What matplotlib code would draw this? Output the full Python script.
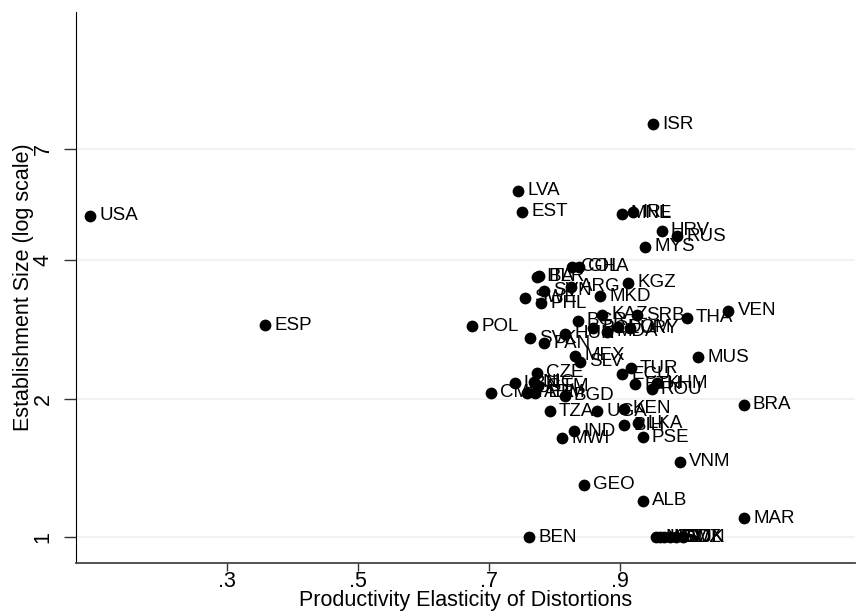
import numpy as np
import matplotlib
matplotlib.use('Agg')
import matplotlib.pyplot as plt
from matplotlib.ticker import FixedLocator, FixedFormatter, NullLocator

# country codes, elasticity (x) and establishment size (y)
countries = ['USA', 'ESP', 'POL', 'ISR', 'LVA', 'EST', 'MNE', 'IRL', 'HRV', 'RUS',
             'MYS', 'ITA', 'BLR', 'COL', 'GHA', 'KGZ', 'SVN', 'ARG', 'SWE', 'PHL',
             'MKD', 'KAZ', 'SRB', 'THA', 'VEN', 'BGR', 'BOL', 'MDA', 'DOM', 'URY',
             'HUN', 'SVK', 'PAN', 'MEX', 'SLV', 'MUS', 'TUR', 'ECU', 'CZE', 'ETH',
             'ROU', 'KHM', 'LBN', 'NIC', 'GTM', 'CMR', 'PER', 'ARM', 'BGD', 'BRA',
             'TZA', 'UGA', 'KEN', 'IND', 'MWI', 'BIH', 'LKA', 'PSE', 'VNM', 'GEO',
             'ALB', 'MAR', 'BEN', 'NPL', 'KSV', 'LSO', 'SWZ', 'SDN', 'TJK']
elasticity = [0.091, 0.358, 0.674, 0.950, 0.744, 0.750, 0.902, 0.920, 0.963, 0.987,
              0.938, 0.773, 0.776, 0.826, 0.837, 0.912, 0.784, 0.824, 0.755, 0.779,
              0.869, 0.872, 0.925, 1.001, 1.065, 0.835, 0.859, 0.880, 0.897, 0.915,
              0.816, 0.762, 0.784, 0.831, 0.838, 1.019, 0.916, 0.903, 0.773, 0.923,
              0.948, 0.956, 0.739, 0.768, 0.775, 0.702, 0.758, 0.770, 0.815, 1.088,
              0.792, 0.865, 0.905, 0.829, 0.811, 0.906, 0.927, 0.934, 0.991, 0.845,
              0.934, 1.089, 0.761, 0.955, 0.961, 0.967, 0.976, 0.985, 0.995]
size = [5.00, 2.89, 2.88, 7.91, 5.67, 5.11, 5.05, 5.09, 4.64, 4.52,
        4.29, 3.69, 3.70, 3.88, 3.88, 3.58, 3.44, 3.51, 3.32, 3.23,
        3.34, 3.05, 3.04, 3.00, 3.11, 2.96, 2.85, 2.80, 2.86, 2.85,
        2.77, 2.71, 2.64, 2.48, 2.41, 2.46, 2.33, 2.26, 2.28, 2.15,
        2.10, 2.16, 2.16, 2.17, 2.13, 2.06, 2.06, 2.06, 2.03, 1.94,
        1.88, 1.88, 1.90, 1.70, 1.64, 1.75, 1.77, 1.65, 1.46, 1.30,
        1.20, 1.10, 1.00, 1.00, 1.00, 1.00, 1.00, 1.00, 1.00]

xticks = [0.3, 0.5, 0.7, 0.9]
xticklabels = ['.3', '.5', '.7', '.9']
yticks = [1, 2, 4, 7]

plt.rcParams['font.family'] = ['Liberation Sans', 'DejaVu Sans']

fig = plt.figure(figsize=(8.6, 6.13), dpi=100)
ax = fig.add_axes([76/860, 50/613, 779/860, 551/613])

ax.scatter(elasticity, size, s=72, color='black', zorder=3, linewidths=0)
for c, xv, yv in zip(countries, elasticity, size):
    ax.annotate(c, (xv, yv), xytext=(6.5, 0), textcoords='offset points',
                va='center', ha='left', fontsize=13.5, zorder=4)

ax.set_yscale('log')
ax.set_xlim(0.0695, 1.258)
ax.set_ylim(0.878, 13.9)

ax.yaxis.set_major_locator(FixedLocator(yticks))
ax.yaxis.set_major_formatter(FixedFormatter([str(t) for t in yticks]))
ax.yaxis.set_minor_locator(NullLocator())
ax.set_xticks(xticks)
ax.set_xticklabels(xticklabels)

for t in yticks:
    ax.axhline(t, color='#eaf2f3', lw=1.2, zorder=1)

ax.tick_params(axis='both', labelsize=15.5, length=6, width=1, color='#333333', pad=0)
ax.tick_params(axis='y', labelrotation=90, length=9, pad=7)
for lbl in ax.get_yticklabels():
    lbl.set_va('center')

ax.spines['top'].set_visible(False)
ax.spines['right'].set_visible(False)
ax.spines['left'].set_color('black')
ax.spines['bottom'].set_color('#444444')
ax.spines['bottom'].set_linewidth(1.3)

ax.set_xlabel('Productivity Elasticity of Distortions', fontsize=15.5, labelpad=-2)
ax.set_ylabel('Establishment Size (log scale)', fontsize=15.5, labelpad=-1)

fig.savefig('out.png', dpi=100)
